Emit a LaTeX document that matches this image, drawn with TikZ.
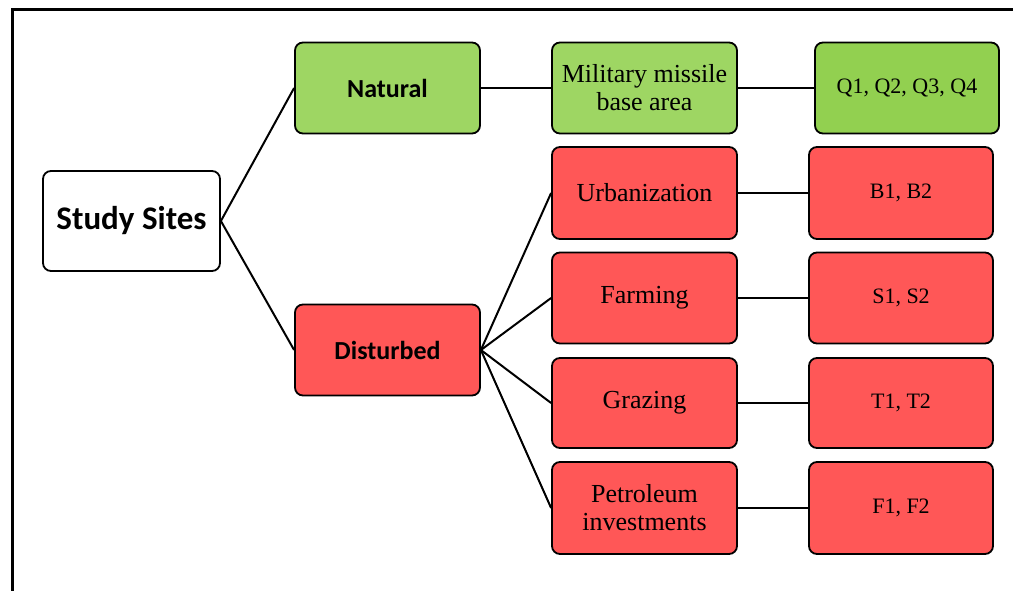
\documentclass[tikz,border=0pt]{standalone}
\usepackage{fontspec}
\setmainfont{Liberation Serif}
\newfontfamily\calib{Carlito}
\definecolor{gnat}{RGB}{158,214,99}
\definecolor{gq}{RGB}{146,208,80}
\definecolor{rd}{RGB}{255,87,87}
\tikzset{
  box/.style={draw=black, line width=1.8pt, rounded corners=8pt, align=center, inner sep=2pt},
  headbox/.style={box, font=\calib\bfseries\fontsize{26}{30}\selectfont},
  midbox/.style={box, minimum width=185pt, font=\fontsize{26}{28}\selectfont},
  endbox/.style={box, minimum width=184pt, font=\fontsize{22}{26}\selectfont},
  link/.style={line width=2pt}
}
\begin{document}
\begin{tikzpicture}[x=1pt,y=-1pt]
\useasboundingbox (0,0) rectangle (1013,591);
\begin{scope}
\clip (0,0) rectangle (1013,591);
\draw[line width=3pt] (12,600) -- (12,10) -- (1020,10);
\end{scope}
\node[box, fill=white, minimum width=177pt, minimum height=100pt, font=\calib\bfseries\fontsize{33}{36}\selectfont] (study) at (131.5,221) {Study Sites};
\node[headbox, fill=gnat, minimum width=185pt, minimum height=91pt] (natural) at (387.5,88) {Natural};
\node[headbox, fill=rd, minimum width=185pt, minimum height=91pt] (disturbed) at (387.5,350) {Disturbed};
\node[midbox, fill=gnat, minimum height=91pt] (military) at (644.5,88) {Military missile\\base area};
\node[midbox, fill=rd, minimum height=92pt] (urban) at (644.5,193) {Urbanization};
\node[midbox, fill=rd, minimum height=91pt] (farming) at (644.5,298) {Farming};
\node[midbox, fill=rd, minimum height=90pt] (grazing) at (644.5,403) {Grazing};
\node[midbox, fill=rd, minimum height=92pt] (petro) at (644.5,508) {Petroleum\\investments};
\node[endbox, fill=gq, minimum height=91pt] (q) at (907,88) {Q1, Q2, Q3, Q4};
\node[endbox, fill=rd, minimum height=92pt] (b) at (901,193) {B1, B2};
\node[endbox, fill=rd, minimum height=91pt] (s) at (901,298) {S1, S2};
\node[endbox, fill=rd, minimum height=90pt] (t) at (901,403) {T1, T2};
\node[endbox, fill=rd, minimum height=92pt] (f) at (901,508) {F1, F2};
\draw[link] (study.east) -- (natural.west);
\draw[link] (study.east) -- (disturbed.west);
\draw[link] (natural.east) -- (military.west);
\draw[link] (military.east) -- (q.west);
\foreach \m/\e in {urban/b, farming/s, grazing/t, petro/f}{
  \draw[link] (disturbed.east) -- (\m.west);
  \draw[link] (\m.east) -- (\e.west);
}
\end{tikzpicture}
\end{document}
